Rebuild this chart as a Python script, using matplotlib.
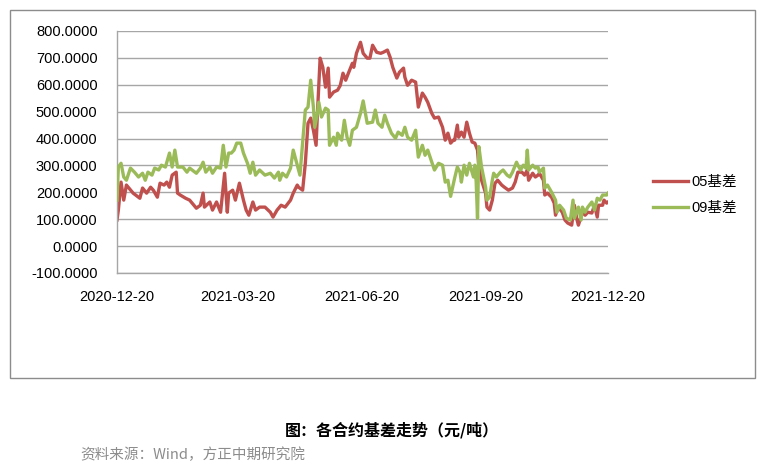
import pandas as pd
import matplotlib.pyplot as plt
import matplotlib.dates as mdates
from matplotlib.patches import Rectangle

plt.rcParams['font.family'] = ['Liberation Sans', 'Noto Sans CJK SC', 'DejaVu Sans']

# 05 basis (yuan/ton)
dates_05 = ['2020-12-20', '2020-12-21', '2020-12-23', '2020-12-25', '2020-12-27', '2021-01-01', '2021-01-06',
            '2021-01-08', '2021-01-11', '2021-01-14', '2021-01-16', '2021-01-19', '2021-01-21', '2021-01-24',
            '2021-01-26', '2021-01-28', '2021-01-30', '2021-02-02', '2021-02-03', '2021-02-05', '2021-02-09',
            '2021-02-12', '2021-02-17', '2021-02-20', '2021-02-22', '2021-02-23', '2021-02-27', '2021-03-01',
            '2021-03-04', '2021-03-07', '2021-03-10', '2021-03-12', '2021-03-13', '2021-03-16', '2021-03-18',
            '2021-03-21', '2021-03-24', '2021-03-26', '2021-03-28', '2021-03-31', '2021-04-02', '2021-04-05',
            '2021-04-09', '2021-04-13', '2021-04-15', '2021-04-18', '2021-04-21', '2021-04-24', '2021-04-28',
            '2021-04-30', '2021-05-03', '2021-05-04', '2021-05-07', '2021-05-09', '2021-05-11', '2021-05-13',
            '2021-05-15', '2021-05-17', '2021-05-18', '2021-05-20', '2021-05-22', '2021-05-24', '2021-05-26',
            '2021-05-27', '2021-05-30', '2021-06-02', '2021-06-04', '2021-06-06', '2021-06-08', '2021-06-10',
            '2021-06-13', '2021-06-14', '2021-06-16', '2021-06-19', '2021-06-21', '2021-06-24', '2021-06-26',
            '2021-06-28', '2021-07-01', '2021-07-04', '2021-07-06', '2021-07-09', '2021-07-11', '2021-07-13',
            '2021-07-16', '2021-07-18', '2021-07-21', '2021-07-22', '2021-07-24', '2021-07-27', '2021-07-30',
            '2021-08-01', '2021-08-04', '2021-08-06', '2021-08-08', '2021-08-11', '2021-08-13', '2021-08-16',
            '2021-08-19', '2021-08-21', '2021-08-23', '2021-08-25', '2021-08-27', '2021-08-28', '2021-08-30',
            '2021-08-31', '2021-09-02', '2021-09-04', '2021-09-06', '2021-09-08', '2021-09-10', '2021-09-12',
            '2021-09-14', '2021-09-15', '2021-09-17', '2021-09-20', '2021-09-21', '2021-09-23', '2021-09-25',
            '2021-09-27', '2021-09-29', '2021-10-02', '2021-10-04', '2021-10-07', '2021-10-10', '2021-10-12',
            '2021-10-14', '2021-10-17', '2021-10-19', '2021-10-21', '2021-10-22', '2021-10-25', '2021-10-27',
            '2021-10-29', '2021-10-30', '2021-11-02', '2021-11-03', '2021-11-05', '2021-11-08', '2021-11-10',
            '2021-11-11', '2021-11-13', '2021-11-16', '2021-11-18', '2021-11-20', '2021-11-23', '2021-11-25',
            '2021-11-27', '2021-11-28', '2021-12-01', '2021-12-03', '2021-12-05', '2021-12-08', '2021-12-10',
            '2021-12-12', '2021-12-13', '2021-12-16', '2021-12-17', '2021-12-19', '2021-12-20']
basis_05 = [97, 134, 238, 171, 227, 197, 178,
            216, 197, 219, 208, 182, 234, 227,
            238, 219, 264, 275, 197, 190, 178,
            171, 141, 152, 197, 145, 164, 134,
            164, 126, 271, 126, 197, 208, 171,
            234, 171, 134, 115, 164, 134, 145,
            145, 126, 108, 134, 152, 145, 171,
            197, 227, 219, 208, 308, 457, 476,
            431, 375, 494, 699, 665, 591, 662,
            554, 573, 580, 598, 643, 617, 643,
            680, 665, 717, 758, 717, 699, 699,
            747, 721, 717, 721, 729, 703, 665,
            625, 647, 662, 628, 598, 617, 610,
            517, 569, 554, 535, 494, 476, 480,
            442, 394, 420, 383, 394, 394, 450,
            405, 424, 405, 461, 420, 387, 383,
            357, 294, 245, 197, 145, 134, 171,
            234, 245, 227, 219, 208, 216, 238,
            275, 275, 264, 283, 245, 271, 257,
            264, 271, 245, 190, 197, 182, 160,
            115, 145, 126, 97, 86, 78, 152,
            97, 78, 126, 115, 126, 123, 152,
            108, 152, 152, 171, 160, 164]

# 09 basis (yuan/ton)
dates_09 = ['2020-12-20', '2020-12-21', '2020-12-23', '2020-12-25', '2020-12-27', '2020-12-30', '2021-01-02',
            '2021-01-05', '2021-01-08', '2021-01-10', '2021-01-12', '2021-01-15', '2021-01-17', '2021-01-20',
            '2021-01-22', '2021-01-25', '2021-01-28', '2021-01-30', '2021-02-01', '2021-02-03', '2021-02-07',
            '2021-02-10', '2021-02-12', '2021-02-17', '2021-02-20', '2021-02-22', '2021-02-24', '2021-02-27',
            '2021-03-01', '2021-03-04', '2021-03-07', '2021-03-09', '2021-03-11', '2021-03-13', '2021-03-15',
            '2021-03-17', '2021-03-19', '2021-03-22', '2021-03-24', '2021-03-27', '2021-03-29', '2021-03-31',
            '2021-04-02', '2021-04-05', '2021-04-09', '2021-04-13', '2021-04-16', '2021-04-19', '2021-04-20',
            '2021-04-22', '2021-04-25', '2021-04-28', '2021-04-30', '2021-05-03', '2021-05-05', '2021-05-07',
            '2021-05-09', '2021-05-11', '2021-05-13', '2021-05-15', '2021-05-16', '2021-05-18', '2021-05-19',
            '2021-05-21', '2021-05-24', '2021-05-26', '2021-05-27', '2021-05-30', '2021-06-01', '2021-06-02',
            '2021-06-05', '2021-06-07', '2021-06-09', '2021-06-11', '2021-06-13', '2021-06-16', '2021-06-19',
            '2021-06-21', '2021-06-24', '2021-06-28', '2021-06-30', '2021-07-02', '2021-07-05', '2021-07-07',
            '2021-07-09', '2021-07-12', '2021-07-15', '2021-07-17', '2021-07-20', '2021-07-22', '2021-07-24',
            '2021-07-27', '2021-07-30', '2021-08-01', '2021-08-04', '2021-08-06', '2021-08-08', '2021-08-11',
            '2021-08-13', '2021-08-16', '2021-08-19', '2021-08-21', '2021-08-23', '2021-08-25', '2021-08-27',
            '2021-08-28', '2021-08-30', '2021-09-01', '2021-09-02', '2021-09-04', '2021-09-06', '2021-09-08',
            '2021-09-11', '2021-09-12', '2021-09-13', '2021-09-14', '2021-09-15', '2021-09-17', '2021-09-20',
            '2021-09-21', '2021-09-23', '2021-09-25', '2021-09-26', '2021-09-28', '2021-10-01', '2021-10-03',
            '2021-10-06', '2021-10-08', '2021-10-10', '2021-10-13', '2021-10-14', '2021-10-16', '2021-10-18',
            '2021-10-20', '2021-10-21', '2021-10-22', '2021-10-25', '2021-10-27', '2021-10-29', '2021-10-30',
            '2021-11-02', '2021-11-03', '2021-11-05', '2021-11-08', '2021-11-11', '2021-11-12', '2021-11-14',
            '2021-11-17', '2021-11-19', '2021-11-22', '2021-11-24', '2021-11-25', '2021-11-28', '2021-11-30',
            '2021-12-01', '2021-12-03', '2021-12-05', '2021-12-08', '2021-12-10', '2021-12-12', '2021-12-14',
            '2021-12-16', '2021-12-19', '2021-12-20']
basis_09 = [171, 294, 308, 257, 245, 290, 275,
            257, 271, 245, 275, 264, 290, 283,
            301, 294, 346, 294, 357, 294, 294,
            275, 290, 271, 290, 312, 275, 294,
            271, 294, 290, 375, 294, 346, 346,
            357, 383, 383, 346, 308, 271, 312,
            264, 283, 264, 271, 253, 275, 245,
            271, 257, 290, 357, 301, 264, 383,
            506, 517, 617, 517, 442, 494, 535,
            480, 513, 506, 375, 405, 375, 420,
            394, 468, 405, 375, 431, 442, 494,
            540, 457, 461, 506, 457, 442, 487,
            457, 420, 401, 424, 412, 442, 405,
            394, 431, 331, 375, 338, 357, 312,
            283, 308, 301, 238, 245, 185, 230,
            253, 294, 275, 238, 301, 264, 308,
            257, 301, 240, 104, 370, 294, 219,
            171, 182, 245, 271, 257, 275, 283,
            264, 257, 275, 312, 301, 283, 301,
            290, 357, 283, 301, 290, 294, 275,
            290, 216, 227, 201, 171, 126, 152,
            134, 104, 97, 171, 104, 145, 97,
            145, 126, 145, 164, 134, 178, 171,
            190, 190, 197]

series_names = ['05基差', '09基差']
series_colors = ['#C0504D', '#9BBB59']
y_ticks = [-100, 0, 100, 200, 300, 400, 500, 600, 700, 800]
x_ticks = ['2020-12-20', '2021-03-20', '2021-06-20', '2021-09-20', '2021-12-20']

fig = plt.figure(figsize=(7.64, 4.70), dpi=100)
ax = fig.add_axes([117 / 764, 1 - 273 / 470, 491 / 764, 242 / 470])

ax.plot(pd.to_datetime(dates_05), basis_05, color=series_colors[0], lw=2.4, label=series_names[0], zorder=2)
ax.plot(pd.to_datetime(dates_09), basis_09, color=series_colors[1], lw=2.4, label=series_names[1], zorder=3)

ax.set_ylim(-100, 800)
ax.set_yticks(y_ticks)
ax.set_yticklabels(['%.4f' % v for v in y_ticks])
ax.set_xlim(pd.Timestamp(x_ticks[0]), pd.Timestamp(x_ticks[-1]))
ax.set_xticks(pd.to_datetime(x_ticks))
ax.xaxis.set_major_formatter(mdates.DateFormatter('%Y-%m-%d'))

ax.grid(axis='y', color='#a6a6a6', lw=1)
ax.set_axisbelow(True)
for s in ['top', 'right']:
    ax.spines[s].set_visible(False)
for s in ['left', 'bottom']:
    ax.spines[s].set_color('#a6a6a6')
    ax.spines[s].set_linewidth(1)
ax.tick_params(axis='both', length=0, labelsize=10.5, colors='black')
ax.tick_params(axis='x', pad=12)
ax.tick_params(axis='y', pad=14)

fig.legend(loc='center left', bbox_to_anchor=(640 / 764, 1 - 195 / 470), frameon=False,
           prop={'family': ['Liberation Sans', 'Noto Sans CJK SC'], 'size': 10.5},
           handlelength=2.4, handletextpad=0.2, labelspacing=0.8)

fig.patches.append(Rectangle((10 / 764, 1 - 378 / 470), 745 / 764, 368 / 470, transform=fig.transFigure,
                             fill=False, edgecolor='#8c8c8c', lw=1))

fig.text(392 / 764, 1 - 430 / 470, '图：各合约基差走势（元/吨）', ha='center', va='center',
         fontsize=11.5, fontweight='bold', family=['Noto Sans CJK SC'])
fig.text(80 / 764, 1 - 455 / 470, '资料来源：Wind，方正中期研究院', ha='left', va='center',
         fontsize=10.5, color='#8c8c8c', family=['Noto Sans CJK SC'])

plt.savefig('out.png', dpi=100)
